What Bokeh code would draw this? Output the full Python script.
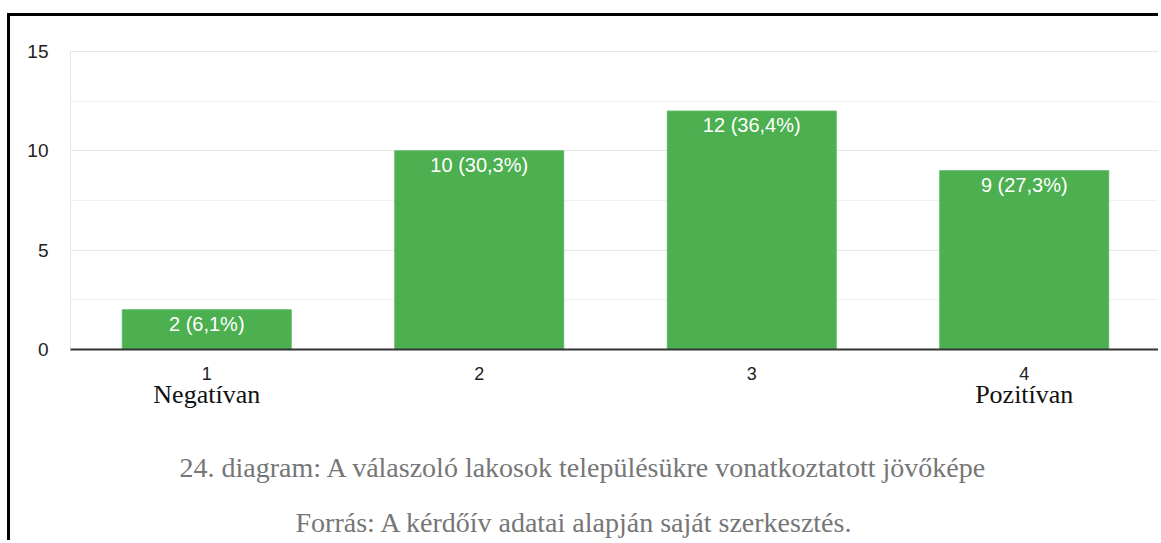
from bokeh.plotting import figure
from bokeh.models import (ColumnDataSource, CategoricalAxis, SingleIntervalTicker,
                          Title, Range1d, CustomJSTickFormatter)
from bokeh.core.properties import value
from bokeh.embed import file_html
from bokeh.resources import INLINE

categories = ["1", "2", "3", "4"]
counts = [2, 10, 12, 9]
percents = ["6,1%", "30,3%", "36,4%", "27,3%"]
end_keys = ["1", "4"]
end_names = ["Negatívan", "Pozitívan"]
caption = "24. diagram: A válaszoló lakosok településükre vonatkoztatott jövőképe"
source_note = "Forrás: A kérdőív  adatai alapján saját szerkesztés."

labels = [f"{c} ({p})" for c, p in zip(counts, percents)]
src = ColumnDataSource(dict(x=categories, top=counts, label=labels))

W, H = 1151, 527
p = figure(width=W, height=H, x_range=categories, y_range=Range1d(0, 15),
           output_backend="svg", toolbar_location=None,
           min_border_left=60, min_border_right=1, min_border_top=35,
           min_border_bottom=194)
p.styles = {"margin-top": "13px", "margin-left": "7px",
            "border-top": "3px solid black", "border-left": "3px solid black"}
p.background_fill_color = "white"
p.border_fill_color = "white"
p.outline_line_color = "#e6e6e6"
p.outline_line_width = 1

p.vbar(x="x", top="top", width=0.62, source=src, fill_color="#4caf50",
       line_color="#5fb862", line_width=1)
p.text(x="x", y="top", text="label", source=src, text_color="white",
       text_font=value("Liberation Sans"), text_font_size="20px",
       text_align="center", text_baseline="top", y_offset=3)

# y axis
p.yaxis.ticker = SingleIntervalTicker(interval=5, num_minor_ticks=2)
p.yaxis.axis_line_color = None
p.yaxis.major_tick_line_color = None
p.yaxis.minor_tick_line_color = None
p.yaxis.major_label_standoff = 16
p.yaxis.major_label_text_font = "Liberation Sans"
p.yaxis.major_label_text_font_size = "19px"
p.yaxis.major_label_text_color = "#222222"

p.ygrid.grid_line_color = "#e6e6e6"
p.ygrid.minor_grid_line_color = "#f1f1f1"
p.xgrid.grid_line_color = None

# x axis
p.xaxis.axis_line_color = "#333333"
p.xaxis.axis_line_width = 2
p.xaxis.major_tick_line_color = None
p.xaxis.minor_tick_line_color = None
p.xaxis.major_label_standoff = 11
p.xaxis.major_label_text_font = "Liberation Sans"
p.xaxis.major_label_text_font_size = "18px"
p.xaxis.major_label_text_color = "#222222"

ax2 = CategoricalAxis()
ax2.formatter = CustomJSTickFormatter(
    args=dict(keys=end_keys, names=end_names),
    code="const i = keys.indexOf(tick); return i >= 0 ? names[i] : '';")
ax2.axis_line_color = None
ax2.major_tick_line_color = None
ax2.minor_tick_line_color = None
ax2.major_label_standoff = -9
ax2.major_label_text_font = "Liberation Serif"
ax2.major_label_text_font_size = "26px"
ax2.major_label_text_color = "#111111"
p.add_layout(ax2, "below")

# captions below the chart
t1 = Title(text=caption, align="left", offset=109, standoff=76,
           text_font="Liberation Serif", text_font_size="28px",
           text_font_style="normal", text_color="#767676")
t2 = Title(text=source_note, align="left", offset=225, standoff=-34,
           text_font="Liberation Serif", text_font_size="28px",
           text_font_style="normal", text_color="#767676")
p.add_layout(t1, "below")
p.add_layout(t2, "below")

open("out.html", "w").write(file_html(p, INLINE))
